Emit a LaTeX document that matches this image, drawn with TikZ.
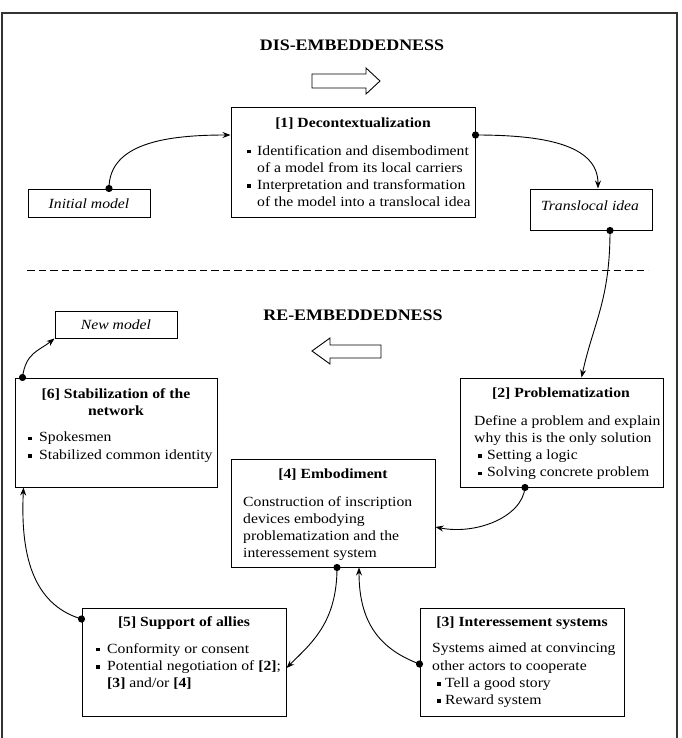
\documentclass[tikz,border=0pt]{standalone}
\usepackage{fontspec}
\setmainfont{Liberation Serif}[FakeStretch=1.12]
\usetikzlibrary{arrows.meta}
\newcommand{\bul}[1][10pt]{\makebox[#1][l]{\rule[1.6pt]{3.8pt}{3.8pt}}}
\begin{document}
\begin{tikzpicture}[x=1pt,y=-1pt,
  box/.style={draw, line width=1pt, inner sep=0pt},
  ttl/.style={font=\fontsize{14}{17.3}\selectfont\bfseries, inner sep=0pt, align=center},
  txt/.style={font=\fontsize{14}{17.3}\selectfont, inner sep=0pt, align=left, anchor=north west},
  lbl/.style={font=\fontsize{14}{17}\selectfont\itshape, inner sep=0pt},
  hdg/.style={font=\fontsize{16}{19}\selectfont\bfseries, inner sep=0pt},
  conn/.style={line width=0.9pt, -{Stealth[length=8pt,width=6pt]}},
  blk/.style={draw, line width=0.9pt, fill=white}]
\useasboundingbox (0,0) rectangle (681,738);
% frame
\draw[line width=1.2pt, black!80] (2,738) -- (2,13) -- (677,13) -- (677,738);
% headings
\node[hdg] (h1) at (352,45) {DIS-EMBEDDEDNESS};
\node[hdg] (h2) at (353,315) {RE-EMBEDDEDNESS};
% block arrows
\draw[blk] (312,74) -- (366,74) -- (366,68) -- (380,81) -- (366,94) -- (366,88) -- (312,88) -- cycle;
\draw[blk] (381,345) -- (330,345) -- (330,338) -- (312,351) -- (330,364) -- (330,358) -- (381,358) -- cycle;
% dashed separator
\draw[line width=1pt, dash pattern=on 7.5pt off 4pt] (27,270) -- (648,270);
% boxes
\node[box, minimum width=122pt, minimum height=28pt] (im) at (89,203) {};
\node[box, minimum width=244pt, minimum height=109pt] (b1) at (353,162.5) {};
\node[box, minimum width=122pt, minimum height=41pt] (tl) at (591,209.5) {};
\node[box, minimum width=122pt, minimum height=27pt] (nm) at (116,324.5) {};
\node[box, minimum width=202pt, minimum height=109pt] (b6) at (116,432.5) {};
\node[box, minimum width=203pt, minimum height=109pt] (b2) at (561.5,432.5) {};
\node[box, minimum width=204pt, minimum height=108pt] (b4) at (333,513) {};
\node[box, minimum width=204pt, minimum height=108pt] (b5) at (184,662) {};
\node[box, minimum width=204pt, minimum height=108pt] (b3) at (522,662) {};
% labels
\node[lbl] (imt) at (89,204) {Initial model};
\node[lbl] (tlt) at (590,206) {Translocal idea};
\node[lbl] (nmt) at (116,325) {New model};
% box 1
\node[ttl] (b1t) at (353,124) {[1] Decontextualization};
\node[txt] (b1b) at (247,145) {\bul Identification and disembodiment\\\hspace*{10pt}of a model from its local carriers\\\bul Interpretation and transformation\\\hspace*{10pt}of the model into a translocal idea};
% box 6
\node[ttl] (b6t) at (116,402) {[6] Stabilization of the\\network};
\node[txt] (b6b) at (28,432) {\bul[11pt]Spokesmen\\\bul[11pt]Stabilized common identity};
% box 2
\node[ttl] (b2t) at (561,394) {[2] Problematization};
\node[txt] (b2b) at (474,415) {Define a problem and explain\\why this is the only solution\\\hspace*{4pt}\bul[9pt]Setting a logic\\\hspace*{4pt}\bul[9pt]Solving concrete problem};
% box 4
\node[ttl] (b4t) at (333,475) {[4] Embodiment};
\node[txt] (b4b) at (243,496) {Construction of inscription\\devices embodying\\problematization and the\\interessement system};
% box 5
\node[ttl] (b5t) at (184,623) {[5] Support of allies};
\node[txt] (b5b) at (96,643) {\bul[11pt]Conformity or consent\\\bul[11pt]Potential negotiation of \textbf{[2]};\\\hspace*{11pt}\textbf{[3]} and/or \textbf{[4]}};
% box 3
\node[ttl] (b3t) at (522,623) {[3] Interessement systems};
\node[txt] (b3b) at (432,643) {Systems aimed at convincing\\other actors to cooperate\\\hspace*{5pt}\bul[8pt]Tell a good story\\\hspace*{5pt}\bul[8pt]Reward system};
% connectors
\draw[conn] ([xshift=20pt]im.north) .. controls +(0,-45) and +(-65,0) .. ([yshift=27.5pt]b1.west);
\fill ([xshift=20pt]im.north) circle (3.6pt);
\draw[conn] ([yshift=27.5pt]b1.east) .. controls +(65,0) and +(0,-45) .. ([xshift=7pt]tl.north);
\fill ([yshift=27.5pt]b1.east) circle (3.6pt);
\draw[conn] ([xshift=19pt]tl.south) .. controls +(0,70) and +(12,-55) .. ([xshift=20pt]b2.north);
\fill ([xshift=19pt]tl.south) circle (3.6pt);
\draw[conn] ([xshift=8pt]b6.north west) .. controls +(3,-25) and +(-15,12) .. (nm.south west);
\fill ([xshift=8pt]b6.north west) circle (3.6pt);
\draw[conn] ([xshift=-36.5pt]b2.south) .. controls +(-3,30) and +(40,8) .. ([yshift=-14pt]b4.east);
\fill ([xshift=-36.5pt]b2.south) circle (3.6pt);
\draw[conn] ([xshift=4pt]b4.south) .. controls +(0,55) and +(25,-25) .. ([yshift=-6pt]b5.east);
\fill ([xshift=4pt]b4.south) circle (3.6pt);
\draw[conn] ([yshift=-2pt]b3.west) .. controls +(-40,-15) and +(0,55) .. ([xshift=26pt]b4.south);
\fill ([yshift=-2pt]b3.west) circle (3.6pt);
\draw[conn] ([yshift=43pt]b5.west) .. controls +(-50,-15) and +(-3,65) .. ([xshift=9pt]b6.south west);
\fill ([yshift=43pt]b5.west) circle (3.6pt);
\end{tikzpicture}
\end{document}
